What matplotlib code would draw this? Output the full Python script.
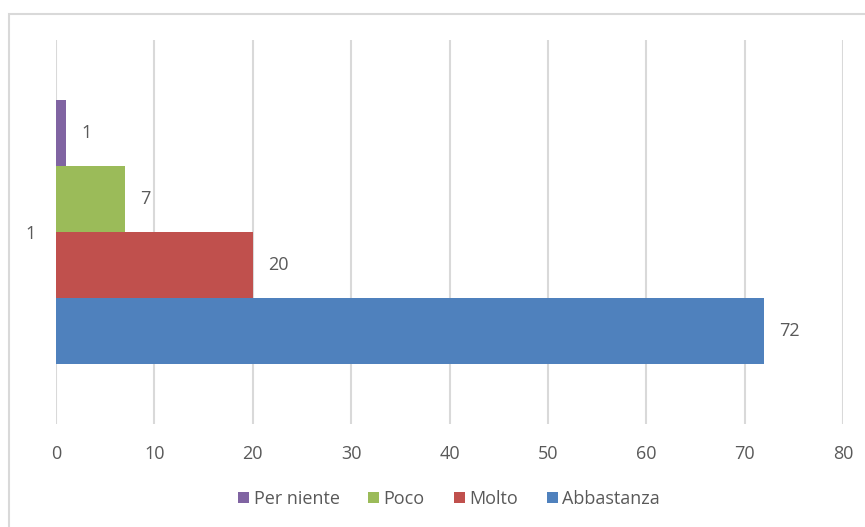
import matplotlib.pyplot as plt
import matplotlib.patches as patches

# dati / data
series = ['Abbastanza', 'Molto', 'Poco', 'Per niente']
values = [72, 20, 7, 1]
colors = ['#4F81BD', '#C0504D', '#9BBB59', '#8064A2']
category = '1'
xticks = [0, 10, 20, 30, 40, 50, 60, 70, 80]

plt.rcParams['font.family'] = ['Open Sans', 'DejaVu Sans']
txt = '#595959'
fs = 13

fig = plt.figure(figsize=(8.65, 5.27), dpi=100)
W, H = 865, 527
ax = fig.add_axes([56 / W, 1 - 424 / H, (843 - 56) / W, (424 - 40) / H])

h = 0.172
handles = []
for i, (name, v, c) in enumerate(zip(series, values, colors)):
    y = (i - 1.5) * h
    b = ax.barh(y, v, height=h, color=c, label=name, zorder=3)
    handles.append(b)
    ax.annotate(str(v), (v, y), xytext=(11, 0), textcoords='offset points',
                ha='left', va='center', fontsize=fs, color=txt)

ax.set_xlim(0, 80)
ax.set_ylim(-0.5, 0.5)
ax.set_xticks(xticks)
ax.set_yticks([0])
ax.set_yticklabels([category])
ax.tick_params(axis='both', length=0, labelsize=fs, labelcolor=txt)
ax.tick_params(axis='y', pad=15)
ax.tick_params(axis='x', pad=15)
ax.grid(axis='x', color='#D9D9D9', lw=1.5, zorder=0)
for s in ax.spines.values():
    s.set_visible(False)

# legenda nello stesso ordine dell'immagine
order = [3, 2, 1, 0]
fig.legend([handles[k] for k in order], [series[k] for k in order],
           loc='center', bbox_to_anchor=(449 / W, 1 - 499 / H), ncol=4,
           frameon=False, fontsize=fs, handlelength=0.6, handleheight=0.6,
           handletextpad=0.25, columnspacing=1.6, labelcolor=txt)

# bordo del grafico
border = patches.Rectangle((9 / W, -0.1), 1.2, 1 - 13.5 / H + 0.1,
                           transform=fig.transFigure, fill=False,
                           edgecolor='#D9D9D9', lw=1.5, clip_on=False)
fig.patches.append(border)

fig.savefig('out.png', dpi=100, facecolor='white')
